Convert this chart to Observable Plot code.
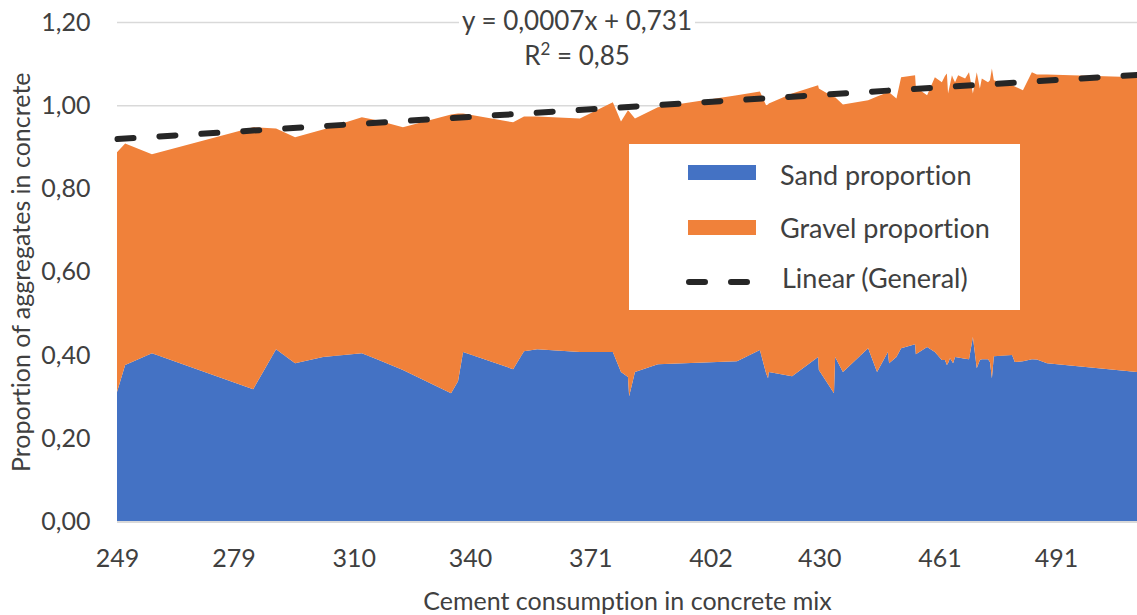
<!DOCTYPE html>
<html>
<head>
<meta charset="utf-8">
<script src="https://cdn.jsdelivr.net/npm/d3@7"></script>
<script src="https://cdn.jsdelivr.net/npm/@observablehq/plot@0.6"></script>
<style>
  html, body { margin: 0; padding: 0; background: #fff; }
  #wrap { position: relative; width: 1137px; height: 615px; font-family: Lato, "Open Sans", sans-serif; color: #404040; overflow: hidden; font-variant-ligatures: none; }
  #wrap svg text { font-variant-ligatures: none; }
  #eq { position: absolute; left: 577px; top: 3px; transform: translateX(-50%); text-align: center; font-size: 26px; line-height: 35px; white-space: nowrap; }
  #eq span { background: #fff; padding: 0 3px; }
  #eq sup { font-size: 17px; line-height: 0; vertical-align: 10px; }
  #legend { position: absolute; left: 629px; top: 144px; width: 391px; height: 166px; background: #fff; }
  .sw { position: absolute; left: 59px; width: 68px; height: 15px; }
  .lt { position: absolute; left: 151px; font-size: 27px; line-height: 30px; white-space: nowrap; }
</style>
</head>
<body>
<div id="wrap"></div>
<script>
// Cement consumption (x) and stacked proportions
const cement = [249.0, 251.1, 258.0, 284.1, 290.0, 294.9, 302.1, 312.1, 316.0, 322.7,
  335.1, 336.9, 338.2, 351.1, 353.9, 357.3, 368.3, 376.8, 378.9, 380.7,
  381.0, 382.5, 388.4, 408.8, 414.7, 416.3, 416.8, 417.0, 423.0, 429.7,
  429.9, 433.8, 434.1, 436.1, 442.6, 444.9, 447.7, 448.0, 449.9, 451.1,
  454.7, 454.9, 457.8, 459.8, 461.6, 462.4, 462.9, 463.2, 463.7, 464.2,
  464.5, 465.0, 465.8, 467.6, 468.6, 469.6, 470.6, 471.4, 471.9, 473.5,
  474.0, 474.5, 475.0, 479.7, 480.4, 482.5, 484.8, 486.1, 488.7, 511.9];
const sand = [0.311, 0.376, 0.404, 0.318, 0.414, 0.380, 0.395, 0.404, 0.390, 0.364,
  0.308, 0.337, 0.407, 0.366, 0.409, 0.414, 0.407, 0.407, 0.359, 0.347,
  0.301, 0.359, 0.378, 0.385, 0.412, 0.356, 0.344, 0.359, 0.349, 0.395,
  0.364, 0.308, 0.395, 0.359, 0.416, 0.359, 0.407, 0.380, 0.395, 0.416,
  0.426, 0.402, 0.419, 0.407, 0.388, 0.388, 0.376, 0.380, 0.392, 0.385,
  0.380, 0.395, 0.394, 0.391, 0.390, 0.443, 0.368, 0.388, 0.390, 0.390,
  0.383, 0.344, 0.397, 0.400, 0.383, 0.385, 0.390, 0.389, 0.380, 0.359];
const gravel = [0.576, 0.532, 0.478, 0.629, 0.530, 0.543, 0.547, 0.567, 0.574, 0.583,
  0.670, 0.643, 0.573, 0.593, 0.564, 0.559, 0.561, 0.600, 0.602, 0.641,
  0.684, 0.609, 0.617, 0.639, 0.621, 0.644, 0.658, 0.645, 0.679, 0.653,
  0.676, 0.711, 0.624, 0.643, 0.596, 0.662, 0.624, 0.651, 0.621, 0.651,
  0.646, 0.641, 0.605, 0.660, 0.667, 0.682, 0.700, 0.648, 0.658, 0.687,
  0.685, 0.660, 0.678, 0.673, 0.689, 0.585, 0.711, 0.652, 0.674, 0.665,
  0.677, 0.744, 0.663, 0.648, 0.662, 0.651, 0.689, 0.685, 0.694, 0.708];
const seriesNames = ["Sand proportion", "Gravel proportion"];
const seriesColors = ["#4472C4", "#F0813A"];
const trendX = [249, 511.9];
const trendY = [0.920, 1.074];
const trendName = "Linear (General)";
const xTicks = [249, 279, 310, 340, 371, 402, 430, 461, 491];
const yTicks = [0, 0.2, 0.4, 0.6, 0.8, 1.0, 1.2];
const xTitle = "Cement consumption in concrete mix";
const yTitle = "Proportion of aggregates in concrete";
const eqLine1 = "y = 0,0007x + 0,731";
const eqLine2 = ["R", "2", " = 0,85"];

const rows = [];
cement.forEach((c, i) => {
  rows.push({cement: c, type: seriesNames[0], value: sand[i]});
  rows.push({cement: c, type: seriesNames[1], value: gravel[i]});
});
const trend = trendX.map((x, i) => ({x, y: trendY[i]}));
const fmt = d => d.toFixed(2).replace(".", ",");

const chart = Plot.plot({
  width: 1137, height: 615,
  marginTop: 22, marginBottom: 93.5, marginLeft: 117, marginRight: 0,
  style: {fontFamily: "Lato, 'Open Sans', sans-serif", fontSize: "25px", color: "#404040", background: "transparent", overflow: "visible"},
  x: {domain: [249, 511.9]},
  y: {domain: [0, 1.2]},
  color: {domain: seriesNames, range: seriesColors},
  marks: [
    Plot.gridY(yTicks, {stroke: "#d9d9d9", strokeOpacity: 1, strokeWidth: 1.5}),
    Plot.areaY(rows, {x: "cement", y: "value", fill: "type", z: "type"}),
    Plot.ruleY([0], {stroke: "#d9d9d9", strokeWidth: 2}),
    Plot.line(trend, {x: "x", y: "y", stroke: "#262626", strokeWidth: 6, strokeDasharray: "16,26", strokeLinecap: "round"}),
    Plot.axisY(yTicks, {tickSize: 0, tickPadding: 27, tickFormat: fmt, label: null, fontSize: 25}),
    Plot.axisX(xTicks, {tickSize: 0, tickPadding: 27, tickFormat: d => String(d), label: null, fontSize: 25}),
    Plot.text([xTitle], {frameAnchor: "bottom", dy: 88, fontSize: 25, fill: "#404040"}),
    Plot.text([yTitle], {frameAnchor: "left", textAnchor: "middle", dx: -96, rotate: -90, fontSize: 25, fill: "#404040"})
  ]
});

const wrap = document.getElementById("wrap");
wrap.appendChild(chart);

const eq = document.createElement("div");
eq.id = "eq";
eq.innerHTML = `<span>${eqLine1}</span><br><span>${eqLine2[0]}<sup>${eqLine2[1]}</sup>${eqLine2[2]}</span>`;
wrap.appendChild(eq);

const legend = document.createElement("div");
legend.id = "legend";
legend.innerHTML = `
  <div class="sw" style="top:21px;background:${seriesColors[0]}"></div>
  <div class="lt" style="top:16px">${seriesNames[0]}</div>
  <div class="sw" style="top:76px;background:${seriesColors[1]}"></div>
  <div class="lt" style="top:69px">${seriesNames[1]}</div>
  <svg style="position:absolute;left:0;top:128px" width="140" height="20">
    <line x1="60" y1="10" x2="125" y2="10" stroke="#262626" stroke-width="6" stroke-dasharray="16,26" stroke-linecap="round"/>
  </svg>
  <div class="lt" style="top:119px;left:153px">${trendName}</div>`;
wrap.appendChild(legend);
</script>
</body>
</html>
